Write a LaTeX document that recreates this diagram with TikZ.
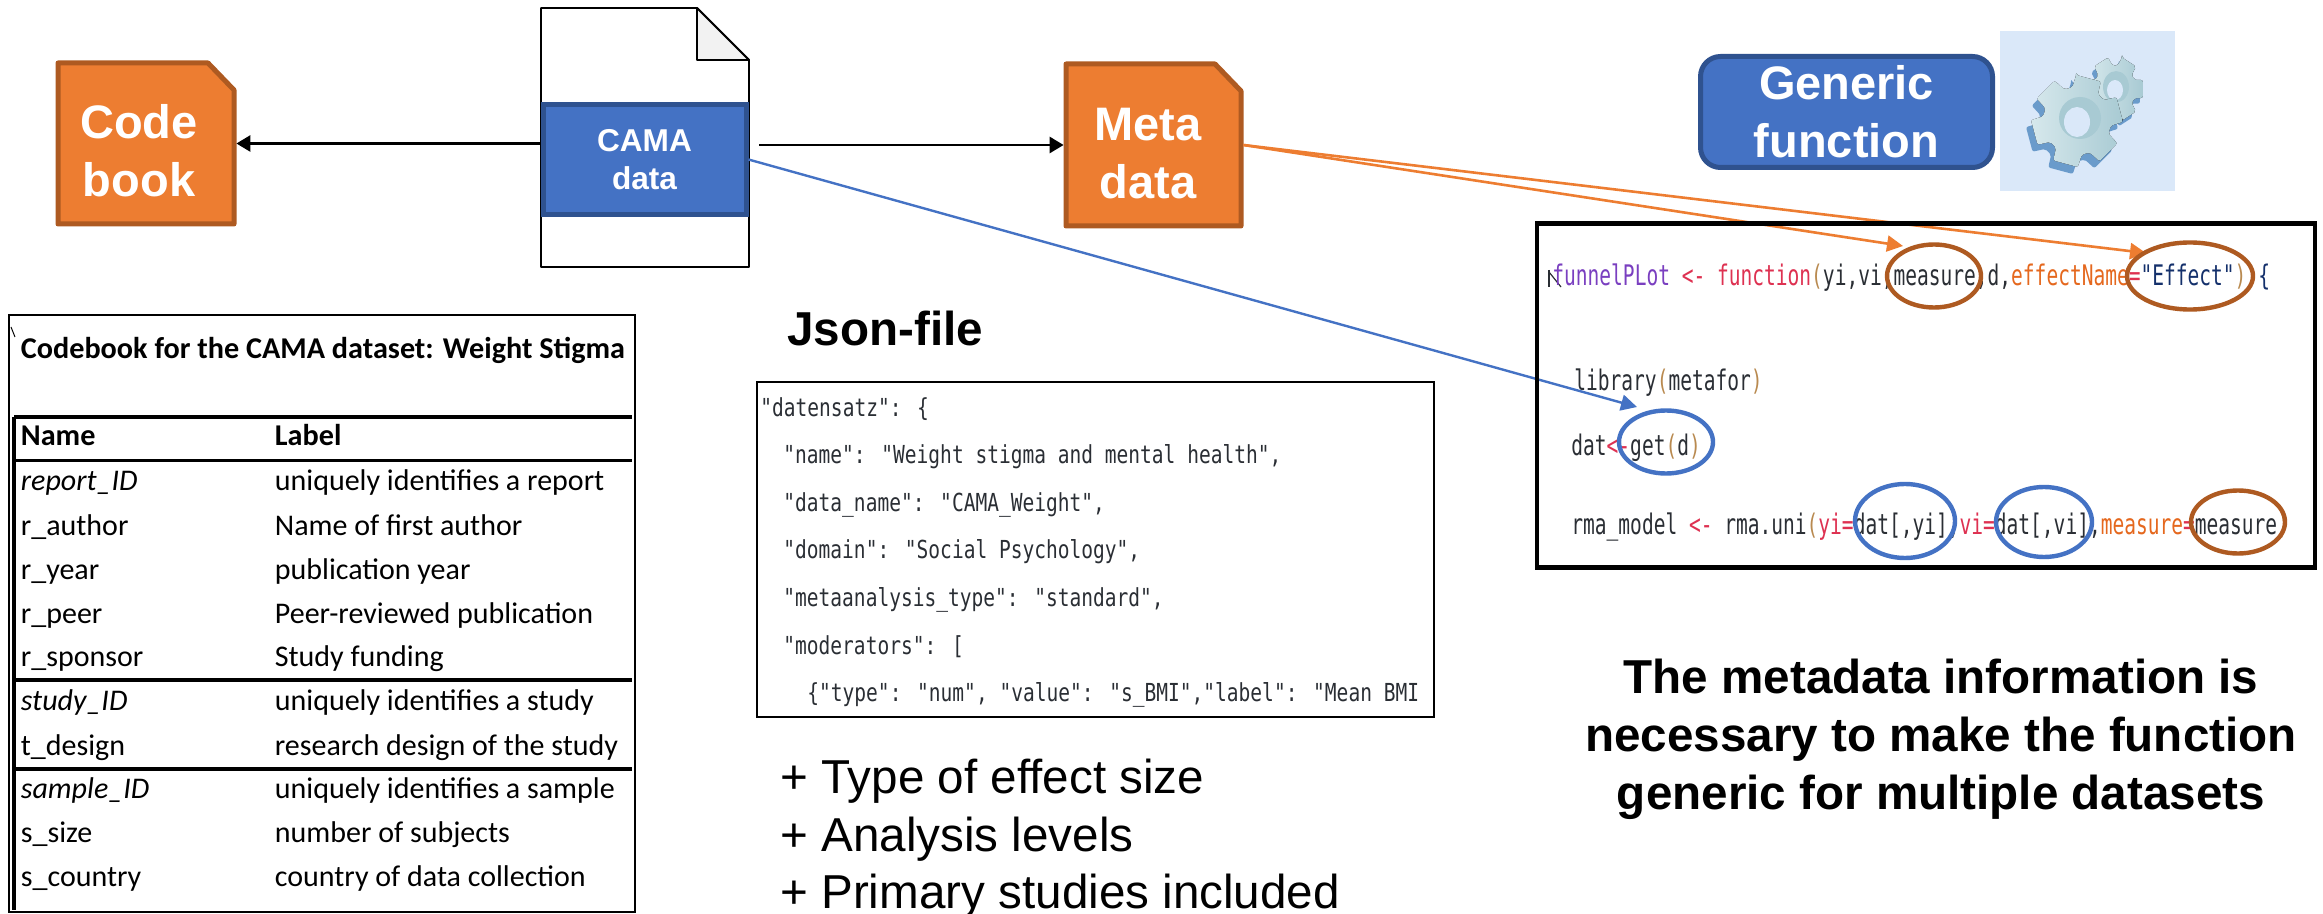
\documentclass[tikz,border=0pt]{standalone}
\usepackage{fontspec}
\usepackage{graphicx}
\setmainfont{Liberation Sans}
\newfontfamily\codefont{DejaVu Sans Mono}
\newfontfamily\bookfont{Carlito}
\usetikzlibrary{arrows.meta,shapes.geometric}
\definecolor{orfill}{HTML}{ED7D31}
\definecolor{orline}{HTML}{AE5A21}
\definecolor{blfill}{HTML}{4472C4}
\definecolor{blline}{HTML}{2F528F}
\definecolor{palebg}{HTML}{DAE8F9}
\definecolor{foldgrey}{HTML}{F2F2F2}
\definecolor{rpurple}{HTML}{7A3FC0}
\definecolor{rred}{HTML}{DE3151}
\definecolor{rorange}{HTML}{E5681E}
\definecolor{rnavy}{HTML}{14306B}
\definecolor{rdark}{HTML}{2A2E34}
\definecolor{rbrown}{HTML}{B98A50}
\definecolor{gearlight}{HTML}{D6E8EC}
\definecolor{gearmid}{HTML}{A8CAD3}
\definecolor{gearside}{HTML}{6A9BCB}
\newcommand{\rcode}[1]{\scalebox{1}[1.45]{\codefont\fontsize{9.77}{12}\selectfont\color{rdark}#1}}
\newcommand{\jcode}[1]{\scalebox{1}[1.27]{\codefont\fontsize{9.77}{12}\selectfont\color{rdark}#1}}
\newcommand{\gearfill}[4]{\fill[#4,rounded corners=1pt] (#3-16:#1) \foreach \k in {0,...,5}{ -- (#3+\k*60-16:#1) -- (#3+\k*60+16:#1) -- (#3+\k*60+23:#2) -- (#3+\k*60+37:#2)} -- cycle;}
\tikzset{
  chamfer/.style={fill=orfill,draw=orline,line width=2.5pt,line join=round},
  bluebox/.style={fill=blfill,draw=blline,line width=2.5pt,inner sep=0pt,text=white,align=center},
  tagtext/.style={text=white,font=\bfseries\fontsize{23.5}{29}\selectfont,align=center,inner sep=0pt},
  slot/.style={inner sep=0pt},
  pagedoc/.style={line width=0.9pt,line join=round},
  arrowblk/.style={draw=black,line width=1.4pt,-{Triangle[length=7pt,width=8pt]}},
  arroworg/.style={draw=orfill,line width=1.3pt,-{Triangle[length=8pt,width=8pt]}},
  arrowblu/.style={draw=blfill,line width=1.2pt,-{Triangle[length=8pt,width=8pt]}},
  ringbrown/.style={ellipse,draw=orline,line width=2.2pt,inner sep=0pt},
  ringblue/.style={ellipse,draw=blfill,line width=2.2pt,inner sep=0pt},
  bookcell/.style={anchor=base west,inner sep=0pt,font=\bookfont\fontsize{15}{18}\selectfont},
  bookhead/.style={anchor=base west,inner sep=0pt,font=\bookfont\bfseries\fontsize{15.1}{18}\selectfont},
  rulethick/.style={line width=1.6pt},
  codeln/.style={anchor=base west,inner sep=0pt},
  plusline/.style={anchor=west,inner sep=0pt,font=\fontsize{23.8}{29}\selectfont},
}
\begin{document}
\begin{tikzpicture}[x=0.5pt,y=-0.5pt]
\useasboundingbox (0,0) rectangle (2323,914);
% Code book
\path[chamfer] (58,63) -- (208,63) -- (234,90) -- (234,224) -- (58,224) -- cycle;
\node[slot,minimum width=90pt,minimum height=82.5pt] (codebook) at (146,143.5) {};
\node[tagtext] (codetext) at (139,151) {Code\\book};
% document
\path[pagedoc,draw=black,fill=white] (541,8) -- (697,8) -- (749,60) -- (749,267) -- (541,267) -- cycle;
\path[pagedoc,draw=black,fill=foldgrey] (697,8) -- (749,60) -- (697,60) -- cycle;
\node[bluebox,minimum width=101.5pt,minimum height=55pt,font=\bfseries\fontsize{15.8}{19}\selectfont] (cama) at (644.5,159.5) {CAMA\\data};
% Meta data
\path[chamfer] (1066,64) -- (1215,64) -- (1241,91) -- (1241,226) -- (1066,226) -- cycle;
\node[slot,minimum width=89.5pt,minimum height=83pt] (metadata) at (1153.5,145) {};
\node[tagtext] (metatext) at (1148,154) {Meta\\data};
% Generic function
\node[bluebox,rounded corners=10pt,minimum width=146pt,minimum height=55.5pt,font=\bfseries\fontsize{23.5}{29}\selectfont] (generic) at (1846.5,112) {Generic\\function};
\node[fill=palebg,minimum width=87.5pt,minimum height=80pt,inner sep=0pt] (gearbg) at (2087,111) {};
% gears
\begin{scope}[shift={(2115,89)},yscale=1.12]
  \begin{scope}[shift={(-3,5)}]\gearfill{29}{21}{-60}{gearside}\end{scope}
  \gearfill{29}{21}{-60}{left color=gearlight,right color=gearmid}
  \fill[gearmid] (1,-2) ellipse [x radius=13,y radius=14];
  \fill[palebg] (0,1) ellipse [x radius=8,y radius=9];
\end{scope}
\begin{scope}[shift={(2077,121)}]
  \begin{scope}[shift={(-5,7)}]\gearfill{46}{34}{-75}{gearside}\end{scope}
  \gearfill{46}{34}{-75}{left color=gearlight,right color=gearmid}
  \fill[gearmid] (3,-3) ellipse [x radius=21,y radius=21];
  \fill[palebg] (0,1) ellipse [x radius=13,y radius=15];
\end{scope}
% Codebook table
\draw[line width=0.9pt] (9,315) rectangle (635,912);
\draw[line width=0.5pt] (11,327) -- (15,337);
\draw[rulethick] (14,417) -- (14,910);
\draw[rulethick] (14,417) -- (632,417);
\draw[rulethick] (14,460.5) -- (632,460.5);
\draw[rulethick] (14,680) -- (632,680);
\draw[rulethick] (14,769) -- (632,769);
\node[bookhead] (booktitle) at (20.5,358.7) {Codebook for the CAMA dataset: Weight Stigma};
\node[bookhead] (hname) at (20.5,445.6) {Name};
\node[bookhead] (hlabel) at (274.5,445.6) {Label};
\foreach \nm/\lb/\yy in {\textit{report\_ID}/uniquely identifies a report/490.7,
  r\_author/Name of first author/535.7,
  r\_year/publication year/579,
  r\_peer/Peer-reviewed publication/623,
  r\_sponsor/Study funding/666,
  \textit{study\_ID}/uniquely identifies a study/710,
  t\_design/research design of the study/755,
  \textit{sample\_ID}/uniquely identifies a sample/798,
  s\_size/number of subjects/842,
  s\_country/country of data collection/886}{
  \node[bookcell] (n\yy) at (20.5,\yy) {\nm};
  \node[bookcell] (l\yy) at (274.5,\yy) {\lb};
}
% Json
\node[anchor=west,inner sep=0pt,font=\bfseries\fontsize{23.8}{29}\selectfont] (jsonlabel) at (787,328) {Json-file};
\node[draw=black,line width=1pt,minimum width=338.5pt,minimum height=167.5pt,inner sep=0pt] (jsonbox) at (1095.5,549.5) {};
\node[codeln] (j1) at (760,416) {\jcode{"datensatz": \{}};
\node[codeln] (j2) at (783,464) {\jcode{"name": "Weight stigma and mental health",}};
\node[codeln] (j3) at (783,511) {\jcode{"data\_name": "CAMA\_Weight",}};
\node[codeln] (j4) at (783,558) {\jcode{"domain": "Social Psychology",}};
\node[codeln] (j5) at (783,606) {\jcode{"metaanalysis\_type": "standard",}};
\node[codeln] (j6) at (783,654) {\jcode{"moderators": [}};
\node[codeln] (j7) at (807,701) {\jcode{\{"type": "num", "value": "s\_BMI","label": "Mean BMI}};
\node[plusline] (p1) at (780,781) {+ Type of effect size};
\node[plusline] (p2) at (780,839) {+ Analysis levels};
\node[plusline] (p3) at (780,896) {+ Primary studies included};
% code box ground
\node[fill=white,minimum width=391pt,minimum height=173.5pt,inner sep=0pt] (codeground) at (1926,395.5) {};
% connectors
\coordinate (metastart) at (759,145);
\coordinate (tipA) at (1903,246);
\coordinate (tipB) at (2146,253);
\coordinate (tipC) at (1637,407);
\draw[arrowblk] (cama.west |- codebook.east) -- (codebook.east);
\draw[arrowblk] (metastart) -- (metadata.west);
\draw[arroworg] (metadata.east) -- (tipA);
\draw[arroworg] (metadata.east) -- (tipB);
\draw[arrowblu] (cama.east) -- (tipC);
% code text
\draw[line width=0.6pt,draw=rdark] (1549,270) -- (1549,287);
\draw[line width=0.6pt,draw=rdark] (1549,272) -- (1561,287);
\node[codeln] (c1) at (1552,286) {\rcode{\textcolor{rpurple}{funnelPLot} \textcolor{rred}{<-} \textcolor{rred}{function}\textcolor{rbrown}{(}yi,vi,measure,d,\textcolor{rorange}{effectName}\textcolor{rred}{=}\textcolor{rnavy}{"Effect"}\textcolor{rbrown}{)} \textcolor{rnavy}{\{}}};
\node[codeln] (c2) at (1574,391) {\rcode{library\textcolor{rbrown}{(}metafor\textcolor{rbrown}{)}}};
\node[codeln] (c3) at (1571,456) {\rcode{dat\textcolor{rred}{<-}get\textcolor{rbrown}{(}d\textcolor{rbrown}{)}}};
\node[codeln] (c4) at (1571,534) {\rcode{rma\_model \textcolor{rred}{<-} rma.uni\textcolor{rbrown}{(}\textcolor{rred}{yi=}dat[,yi],\textcolor{rred}{vi=}dat[,vi],\textcolor{rorange}{measure}\textcolor{rred}{=}measure\textcolor{rbrown}{)}}};
% code box frame
\node[draw=black,line width=2.4pt,minimum width=389pt,minimum height=172pt,inner sep=0pt] (codebox) at (1926,395.5) {};
% rings
\node[ringbrown,minimum width=47pt,minimum height=31.5pt] (r1) at (1934,276) {};
\node[ringbrown,minimum width=63pt,minimum height=33.5pt] (r2) at (2190,276) {};
\node[ringblue,minimum width=47pt,minimum height=31.5pt] (r3) at (1666,442) {};
\node[ringblue,minimum width=50pt,minimum height=37pt] (r4) at (1905,521) {};
\node[ringblue,minimum width=48pt,minimum height=35pt] (r5) at (2044,522) {};
\node[ringbrown,minimum width=47pt,minimum height=31.5pt] (r6) at (2238,522) {};
% conclusion
\node[align=center,inner sep=0pt,font=\bfseries\fontsize{23.8}{29}\selectfont] (conclusion) at (1941,739) {The metadata information is\\necessary to make the function\\generic for multiple datasets};
\end{tikzpicture}
\end{document}
